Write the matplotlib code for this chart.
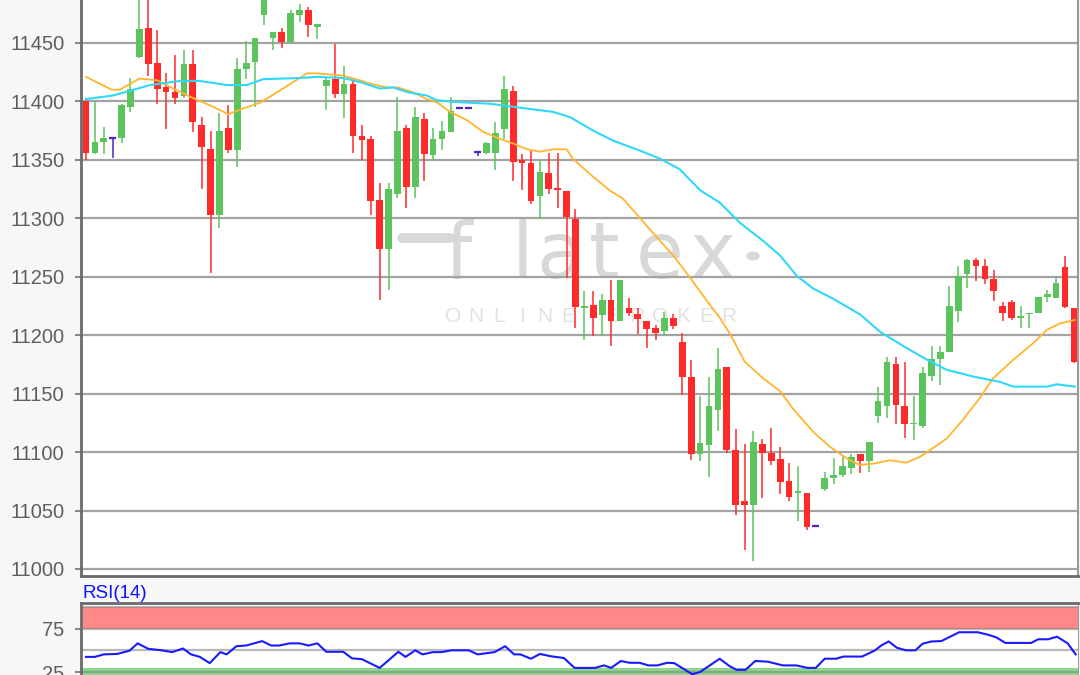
import matplotlib
matplotlib.use("Agg")
import matplotlib.pyplot as plt
from matplotlib.lines import Line2D
from matplotlib.patches import Circle

plt.rcParams['font.family'] = ['Liberation Sans', 'DejaVu Sans']

# OHLC, one candle per slot
opens = [11400, 11356, 11365, 11369, 11369, 11395, 11438, 11463, 11433, 11412,
         11408, 11405, 11432, 11380, 11359, 11303, 11377, 11358, 11428, 11434,
         11474, 11454, 11459, 11451, 11474, 11478, 11464, 11413, 11419, 11406,
         11415, 11370, 11368, 11316, 11274, 11321, 11377, 11327, 11385, 11354,
         11368, 11374, 11394, 11394, 11357, 11356, 11356, 11376, 11409, 11350,
         11347, 11319, 11339, 11326, 11323, 11299, 11223, 11226, 11217, 11230,
         11212, 11223, 11218, 11212, 11206, 11204, 11215, 11194, 11164, 11098,
         11106, 11136, 11173, 11102, 11058, 11055, 11107, 11099, 11094, 11075,
         11065, 11065, 11037, 11068, 11078, 11080, 11086, 11098, 11092, 11131,
         11139, 11175, 11139, 11124, 11122, 11165, 11180, 11186, 11221, 11252,
         11264, 11259, 11248, 11225, 11228, 11215, 11218, 11219, 11233, 11232,
         11258, 11223]
highs = [11400, 11400, 11378, 11369, 11398, 11420, 11498, 11495, 11461, 11424,
         11440, 11444, 11444, 11387, 11375, 11390, 11397, 11437, 11452, 11454,
         11500, 11459, 11463, 11478, 11483, 11481, 11466, 11421, 11449, 11430,
         11418, 11380, 11370, 11330, 11330, 11404, 11380, 11395, 11390, 11377,
         11383, 11404, 11394, 11394, 11357, 11365, 11382, 11422, 11413, 11355,
         11358, 11350, 11356, 11356, 11323, 11308, 11238, 11238, 11235, 11247,
         11247, 11232, 11223, 11212, 11209, 11220, 11218, 11202, 11179, 11148,
         11164, 11189, 11173, 11120, 11107, 11118, 11111, 11121, 11104, 11091,
         11088, 11065, 11037, 11083, 11095, 11096, 11098, 11098, 11109, 11156,
         11181, 11181, 11177, 11148, 11173, 11191, 11191, 11242, 11259, 11265,
         11266, 11265, 11256, 11228, 11230, 11225, 11219, 11233, 11239, 11251,
         11268, 11223]
lows = [11350, 11355, 11355, 11352, 11364, 11391, 11437, 11422, 11398, 11376,
        11398, 11403, 11374, 11325, 11253, 11292, 11356, 11344, 11419, 11395,
        11465, 11444, 11446, 11451, 11468, 11455, 11453, 11393, 11403, 11386,
        11356, 11350, 11303, 11230, 11239, 11317, 11309, 11317, 11332, 11350,
        11358, 11374, 11394, 11394, 11353, 11355, 11341, 11368, 11332, 11324,
        11312, 11299, 11321, 11309, 11249, 11206, 11196, 11199, 11199, 11191,
        11212, 11216, 11201, 11189, 11196, 11199, 11205, 11149, 11093, 11092,
        11079, 11118, 11099, 11046, 11016, 11007, 11061, 11089, 11064, 11058,
        11041, 11033, 11037, 11067, 11073, 11079, 11081, 11082, 11083, 11125,
        11129, 11124, 11112, 11110, 11121, 11161, 11157, 11186, 11211, 11240,
        11246, 11244, 11229, 11212, 11213, 11206, 11206, 11219, 11228, 11232,
        11223, 11176]
closes = [11356, 11365, 11369, 11369, 11397, 11411, 11462, 11432, 11411, 11408,
          11403, 11432, 11382, 11361, 11303, 11375, 11358, 11428, 11433, 11454,
          11492, 11459, 11451, 11476, 11478, 11465, 11466, 11418, 11406, 11415,
          11370, 11367, 11315, 11274, 11325, 11375, 11327, 11387, 11355, 11368,
          11375, 11392, 11394, 11394, 11357, 11364, 11373, 11411, 11348, 11347,
          11315, 11340, 11325, 11324, 11301, 11224, 11225, 11215, 11230, 11212,
          11247, 11219, 11214, 11205, 11202, 11215, 11208, 11164, 11098, 11108,
          11139, 11171, 11102, 11055, 11055, 11109, 11099, 11092, 11074, 11062,
          11067, 11036, 11037, 11078, 11080, 11088, 11096, 11092, 11109, 11144,
          11177, 11140, 11124, 11125, 11168, 11180, 11186, 11225, 11251, 11264,
          11259, 11248, 11238, 11219, 11215, 11216, 11219, 11233, 11235, 11245,
          11224, 11177]

# moving averages, read at candle positions
ma_fast_x = [0, 2.9, 3.8, 6, 8, 9.8, 11.7, 14.4, 16, 17.3, 19.6, 21.5, 23.3, 24.8, 26,
             28.9, 30.8, 32.2, 33.8, 35, 36.7, 38.3, 39.4, 40.9, 42.8, 44.6, 46.5, 48,
             49.6, 51, 52.5, 54, 54.7, 56.6, 58.9, 60.3, 62.2, 64.5, 65.9, 67.9, 69.8,
             71.2, 72.4, 74, 76.1, 78, 79.4, 81.7, 83.6, 85.5, 86.9, 88.4, 90.3, 92.2,
             93.7, 95.2, 96.7, 98.5, 100.4, 101.9, 104.2, 106.4, 108, 109.4, 111.1]
ma_fast = [11421, 11410, 11410, 11419.5, 11418, 11411, 11404, 11395, 11389, 11393,
           11399, 11408, 11416.6, 11424, 11424, 11422, 11418, 11414.6, 11412, 11412,
           11408, 11402, 11399.4, 11391, 11384, 11374, 11368, 11364, 11359, 11357,
           11359, 11359, 11351, 11338, 11323.5, 11317, 11300.6, 11280.6, 11269, 11249,
           11229, 11215, 11200.6, 11177.5, 11163, 11152, 11137.4, 11117.4, 11104.5,
           11094.4, 11089, 11090, 11093, 11091, 11096, 11103.6, 11111.6, 11127.4,
           11146, 11163, 11179, 11193, 11204.7, 11210, 11213]
ma_slow_x = [0, 3, 4.9, 7.2, 10.6, 12.8, 15.8, 18.1, 19.9, 24, 26, 28.9, 30.8, 33,
             34.5, 36.1, 38.3, 39.4, 41.7, 45.4, 48.8, 52.5, 54.4, 57, 59.2, 62.2,
             64.5, 66.7, 69, 71.2, 73.5, 76.1, 78, 79.9, 81.7, 84, 87, 89.2, 92.2,
             94.5, 96.7, 99.7, 102.7, 104.2, 108, 109.1, 111.1]
ma_slow = [11402, 11405, 11409, 11414, 11417.5, 11417.5, 11414, 11414, 11419, 11420,
           11421, 11420, 11416.6, 11411, 11412, 11408, 11405, 11401, 11399.4, 11398,
           11394.6, 11391, 11386.5, 11375, 11366.5, 11358, 11351, 11342, 11324,
           11313.5, 11296, 11280.6, 11268, 11250.5, 11240, 11231, 11217.6, 11203,
           11189, 11179, 11170.4, 11164.6, 11160, 11156, 11156, 11158, 11156]

# RSI(14)
rsi_x = [0, 1, 2, 3.5, 4.9, 5.8, 7, 8.5, 9.7, 10.9, 11.8, 12.8, 13.9, 15.1, 15.8,
         16.9, 18, 19.8, 20.8, 21.7, 22.9, 24, 25, 26, 27, 28.9, 29.9, 31, 33, 35.1,
         35.9, 37, 37.8, 39, 39.9, 41.1, 43, 44, 45.9, 47.1, 48.1, 48.8, 50, 51,
         52.2, 53.7, 54.9, 57.2, 58.2, 59, 60.1, 61.1, 62.2, 63.2, 64.2, 65.3, 66.1,
         68.1, 69, 71.2, 72.3, 73.1, 74.1, 75.2, 76.6, 78.3, 79.8, 81.1, 82, 83,
         84.3, 85.1, 87.2, 88.6, 89.4, 90.2, 91.1, 92.1, 93.2, 94, 95, 96.1, 97.1,
         98.1, 100.2, 101.4, 102.3, 103.3, 106.2, 107, 108.1, 109.1, 110.3, 111.2]
rsi_vals = [42.4, 42.4, 45.3, 45.8, 49.6, 58, 51.7, 50, 47.9, 52.1, 45.3, 42.4, 35.2,
            47.9, 45.3, 54.7, 55.5, 60.6, 55.5, 55.5, 58, 58, 55.5, 58, 48.3, 48.3,
            40.7, 39.8, 29.7, 48.3, 42.4, 50, 45.3, 47.9, 47.9, 50, 50, 45.3, 47.9,
            54.7, 45.3, 45.3, 40.3, 45.8, 43.2, 41.1, 29.7, 29.7, 32.6, 29.7, 37.7,
            35.6, 35.6, 32.6, 32.6, 35.6, 35.2, 22.5, 25, 40.3, 31.8, 27.5, 27.5,
            37.7, 36.9, 32.6, 32.6, 29.7, 29.7, 40.3, 40.3, 42.8, 42.8, 49.6, 55.9,
            60.2, 53, 50, 50, 57.6, 60.2, 60.6, 65.7, 70.8, 70.8, 67.8, 64.8, 58.5,
            58.5, 62.7, 62.7, 65.7, 58, 45.3]

price_ticks = [11000, 11050, 11100, 11150, 11200, 11250, 11300, 11350, 11400, 11450]

UP, DOWN, FLAT = "#5cc45c", "#ff2a2a", "#5020c8"
W, H = 1080, 675

fig = plt.figure(figsize=(10.8, 6.75), dpi=100, facecolor="#f7f7f7")

# ---- price panel
ax = fig.add_axes([81 / W, 99 / H, 997 / W, 591.5 / H])
ax.set_facecolor("white")
ax.set_xlim(-0.56, 111.46)
ax.set_ylim(10994, 11500)

for i, (o, h, l, c) in enumerate(zip(opens, highs, lows, closes)):
    col = UP if c > o else DOWN if c < o else FLAT
    ax.vlines(i, l, h, color=col, lw=1.1, zorder=3)
    if c == o:
        ax.hlines(o, i - 0.4, i + 0.4, color=col, lw=1.6, zorder=4)
    else:
        ax.bar(i, abs(c - o), bottom=min(o, c), width=0.76, color=col,
               linewidth=0, zorder=4)

ax.plot(ma_fast_x, ma_fast, color="#ffb52e", lw=1.3, zorder=5)
ax.plot(ma_slow_x, ma_slow, color="#2fd8f8", lw=1.5, zorder=5)

ax.set_yticks(price_ticks)
ax.set_yticklabels([str(t) for t in price_ticks])
ax.grid(axis="y", color="#a3a3a3", lw=1.6)
ax.set_axisbelow(True)
ax.set_xticks([])
ax.tick_params(axis="y", length=4, width=1.5, color="#8a8a8a", pad=8,
               labelsize=14.5, labelcolor="#5e5e5e")
ax.spines["top"].set_visible(False)
ax.spines["left"].set_color("#6a6a6a")
ax.spines["left"].set_linewidth(2)
ax.spines["bottom"].set_color("#6a6a6a")
ax.spines["bottom"].set_linewidth(2)
ax.spines["right"].set_color("#9a9a9a")
ax.spines["right"].set_linewidth(1.5)

# watermark, drawn inside the price axes behind everything
wm = "#d8d8d8"
for ch, xp in zip("flatex", [458, 522, 560, 604, 660, 713]):
    ax.text(xp / W, 1 - 278 / H, ch, color=wm, fontsize=56, ha="center",
            va="baseline", family="DejaVu Sans", zorder=0.2,
            transform=fig.transFigure)
ax.add_artist(Line2D([402 / W, 450 / W], [1 - 238 / H, 1 - 238 / H], color=wm,
                     lw=7, solid_capstyle="round", zorder=0.2,
                     transform=fig.transFigure))
ax.add_artist(Circle((753 / W, 1 - 256 / H), 6 / W, color=wm, zorder=0.2,
                     transform=fig.transFigure))
for k, ch in enumerate("ONLINE BROKER"):
    ax.text((453 + 23 * k) / W, 1 - 316 / H, ch, color="#e2e2e2", fontsize=15,
            ha="center", va="center", zorder=0.2, transform=fig.transFigure)

# ---- RSI panel
rx = fig.add_axes([81 / W, -18.7 / H, 997 / W, 90.7 / H])
rx.set_facecolor("white")
rx.set_xlim(-0.56, 111.46)
rx.set_ylim(0, 104.5)
rx.axhspan(75, 100, color="#ff8888", lw=0, zorder=1)
rx.axhspan(0, 30, color="#8cd68c", lw=0, zorder=1)
for lvl in [25, 50, 75, 100]:
    rx.axhline(lvl, color="#808080", lw=1.6, alpha=0.55, zorder=2)
rx.plot(rsi_x, rsi_vals, color="#1a1aff", lw=1.5, zorder=3)
rx.set_xticks([])
rx.set_yticks([25, 75])
rx.set_yticklabels(["25", "75"])
rx.tick_params(axis="y", length=4, width=1.5, color="#8a8a8a", pad=8,
               labelsize=14.5, labelcolor="#5e5e5e")
rx.spines["left"].set_color("#6a6a6a")
rx.spines["left"].set_linewidth(2)
rx.spines["top"].set_color("#6a6a6a")
rx.spines["top"].set_linewidth(2)
rx.spines["right"].set_color("#9a9a9a")
rx.spines["bottom"].set_visible(False)
fig.text(82 / W, 1 - 593 / H, "RSI(14)", color="#0a14ff", fontsize=13.5,
         ha="left", va="center")

fig.savefig("out.png", dpi=100, facecolor=fig.get_facecolor())
